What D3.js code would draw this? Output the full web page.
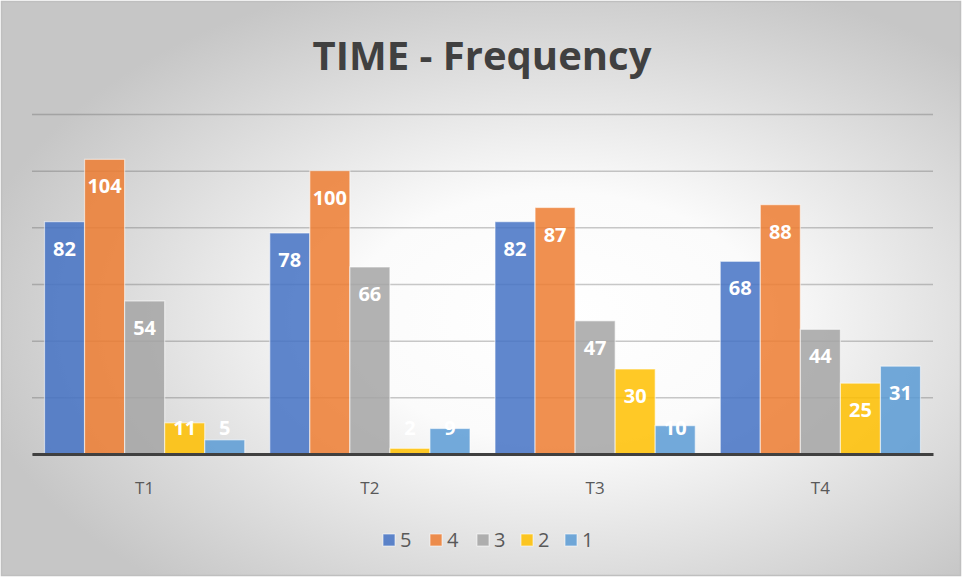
<!DOCTYPE html>
<html>
<head>
<meta charset="utf-8">
<script src="https://cdn.jsdelivr.net/npm/d3@7/dist/d3.min.js"></script>
<style>
  html, body { margin: 0; padding: 0; background: #fff; }
  svg { display: block; }
</style>
</head>
<body>
<svg id="chart" width="962" height="577"></svg>
<script>
// Survey response counts per period, split by rating
const categories = ["T1", "T2", "T3", "T4"];
const seriesNames = ["5", "4", "3", "2", "1"];
const values5 = [82, 78, 82, 68];
const values4 = [104, 100, 87, 88];
const values3 = [54, 66, 47, 44];
const values2 = [11, 2, 30, 25];
const values1 = [5, 9, 10, 31];
const yTicks = [0, 20, 40, 60, 80, 100, 120];
const colors = ["#4472C4", "#ED7D31", "#A5A5A5", "#FFC000", "#5B9BD5"];

const seriesValues = [values5, values4, values3, values2, values1];
const rows = categories.map((c, i) => ({
  cat: c,
  vals: seriesNames.map((s, k) => ({ key: s, value: seriesValues[k][i], idx: k }))
}));

const W = 962, H = 577;
const svg = d3.select("#chart");
const fontFam = "'Open Sans', 'Liberation Sans', sans-serif";

// background with soft radial shading
const defs = svg.append("defs");
const rg = defs.append("radialGradient")
  .attr("id", "bg").attr("cx", "58%").attr("cy", "55%").attr("r", "62%")
  .attr("gradientUnits", "objectBoundingBox");
rg.append("stop").attr("offset", "0%").attr("stop-color", "#ffffff");
rg.append("stop").attr("offset", "35%").attr("stop-color", "#fbfbfb");
rg.append("stop").attr("offset", "100%").attr("stop-color", "#c6c6c6");

svg.append("rect").attr("x", 1.5).attr("y", 1.5).attr("width", W - 3).attr("height", H - 3)
  .attr("fill", "url(#bg)").attr("stroke", "#bfbfbf").attr("stroke-width", 1.5);

const plot = { left: 32, right: 933, top: 114, bottom: 454 };

const x0 = d3.scaleBand().domain(categories).range([plot.left, plot.right]).paddingInner(0).paddingOuter(0);
const groupPad = 12.5;
const x1 = d3.scaleBand().domain(seriesNames)
  .range([groupPad, x0.bandwidth() - groupPad]).padding(0);
const y = d3.scaleLinear().domain([0, 120]).range([plot.bottom, plot.top]);

// horizontal gridlines
const yAxis = d3.axisLeft(y).tickValues(yTicks).tickSize(-(plot.right - plot.left)).tickFormat("");
const gy = svg.append("g").attr("transform", `translate(${plot.left},0)`).call(yAxis);
gy.select(".domain").remove();
gy.selectAll(".tick line").attr("stroke", "rgba(90,90,90,0.33)").attr("stroke-width", 1.5);

// title
svg.append("text").attr("x", 482).attr("y", 70).attr("text-anchor", "middle")
  .attr("font-family", fontFam).attr("font-weight", "bold").attr("font-size", 40)
  .attr("fill", "#404040").text("TIME - Frequency");

// bars
const groups = svg.append("g").selectAll("g").data(rows).join("g")
  .attr("transform", d => `translate(${x0(d.cat)},0)`);

groups.selectAll("rect").data(d => d.vals).join("rect")
  .attr("x", d => x1(d.key))
  .attr("y", d => y(d.value))
  .attr("width", x1.bandwidth())
  .attr("height", d => y(0) - y(d.value))
  .attr("fill", d => colors[d.idx])
  .attr("fill-opacity", 0.85)
  .attr("stroke", "rgba(255,255,255,0.55)")
  .attr("stroke-width", 1.2);

// value labels sit inside the bar end, kept clear of the axis on short bars
const labelLowest = y(0) - 26;
groups.selectAll("text").data(d => d.vals).join("text")
  .attr("x", d => x1(d.key) + x1.bandwidth() / 2)
  .attr("y", d => Math.min(y(d.value) + 27, labelLowest))
  .attr("dy", "0.35em")
  .attr("text-anchor", "middle")
  .attr("font-family", fontFam).attr("font-weight", "bold").attr("font-size", 20)
  .attr("fill", "#ffffff")
  .text(d => d.value);

// category axis
const xAxis = d3.axisBottom(x0).tickSize(0).tickPadding(28);
const gx = svg.append("g").attr("transform", `translate(0,${plot.bottom})`).call(xAxis);
gx.select(".domain").attr("stroke", "#404040").attr("stroke-width", 3);
gx.selectAll(".tick text").attr("font-family", fontFam).attr("font-size", 17).attr("fill", "#595959");

// legend
const legendX = [383, 430, 477, 521, 565];
const legend = svg.append("g").selectAll("g").data(seriesNames).join("g")
  .attr("transform", (d, i) => `translate(${legendX[i]},534)`);
legend.append("rect").attr("width", 12).attr("height", 12)
  .attr("fill", (d, i) => colors[i]).attr("fill-opacity", 0.85)
  .attr("stroke", "rgba(255,255,255,0.6)");
legend.append("text").attr("x", 17).attr("y", 12.5)
  .attr("font-family", fontFam).attr("font-size", 20).attr("fill", "#595959")
  .text(d => d);
</script>
</body>
</html>
